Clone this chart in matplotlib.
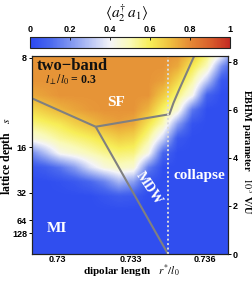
import matplotlib
matplotlib.use('Agg')
import matplotlib.pyplot as plt
import numpy as np
from matplotlib.colors import LinearSegmentedColormap, Normalize
from matplotlib.cm import ScalarMappable

plt.rcParams['mathtext.fontset'] = 'stix'
plt.rcParams['font.family'] = ['Liberation Serif', 'DejaVu Serif']

# ---------------- data ----------------
# grid centres of the order-parameter map
x_centers = [0.7289, 0.7295, 0.7301, 0.7307, 0.7313, 0.7319, 0.7325, 0.7331,
             0.7337, 0.7343, 0.7349, 0.7355, 0.7361, 0.7367, 0.7373]
v_centers = [0.0, 0.6, 1.2, 1.8, 2.4, 3.0, 3.6, 4.2, 4.8, 5.4, 6.0, 6.6, 7.2, 7.8, 8.4]
# <a2^dagger a1>, rows = v_centers (bottom -> top), cols = x_centers
order_map = [
    [.02, .02, .02, .02, .02, .02, .02, .02, .02, .02, .02, .02, .02, .02, .02],
    [.02, .02, .02, .02, .02, .02, .02, .02, .02, .02, .02, .02, .02, .02, .02],
    [.02, .02, .02, .02, .02, .02, .02, .02, .02, .02, .02, .02, .02, .02, .02],
    [.02, .02, .02, .02, .02, .02, .02, .02, .02, .02, .02, .02, .02, .02, .02],
    [.02, .02, .02, .02, .02, .042, .065, .054, .02, .02, .02, .02, .02, .02, .02],
    [.02, .02, .032, .053, .094, .16, .27, .22, .041, .02, .02, .02, .02, .02, .02],
    [.044, .072, .13, .22, .35, .44, .48, .46, .155, .023, .02, .02, .02, .02, .02],
    [.17, .29, .42, .46, .50, .54, .57, .56, .43, .094, .02, .02, .02, .02, .02],
    [.44, .48, .53, .56, .59, .63, .67, .65, .53, .33, .055, .02, .02, .02, .02],
    [.55, .58, .61, .66, .70, .74, .76, .74, .62, .50, .22, .036, .02, .02, .02],
    [.64, .68, .72, .75, .77, .78, .78, .78, .72, .58, .46, .14, .02, .02, .02],
    [.74, .76, .78, .78, .78, .78, .78, .78, .78, .68, .56, .42, .082, .02, .02],
    [.78, .78, .78, .78, .78, .78, .78, .78, .78, .76, .65, .52, .31, .05, .02],
    [.78, .78, .78, .78, .78, .78, .78, .78, .78, .78, .74, .61, .49, .19, .03],
    [.78, .78, .78, .78, .78, .78, .78, .78, .78, .78, .78, .71, .58, .45, .12],
]

# phase boundaries
sf_mi_x = [0.72895, 0.73155]
sf_mi_y = [6.47, 5.29]
sf_right_x = [0.73155, 0.73456, 0.73472, 0.73495, 0.73557]
sf_right_y = [5.29, 5.81, 6.27, 6.82, 8.23]
mi_mdw_x = [0.73155, 0.73450]
mi_mdw_y = [5.29, 0.0]
collapse_x = 0.73452

x_ticks = [0.73, 0.733, 0.736]
x_ticklabels = ['0.73', '0.733', '0.736']
s_labels = ['8', '16', '32', '64', '128']
s_positions = [8.15, 4.44, 2.54, 1.41, 0.87]
vu_ticks = [0, 2, 4, 6, 8]
cb_ticks = [0, 0.2, 0.4, 0.6, 0.8, 1]
cb_ticklabels = ['0', '0.2', '0.4', '0.6', '0.8', '1']

# ---------------- figure ----------------
W, H = 253, 281
fig = plt.figure(figsize=(W / 100, H / 100), dpi=100)

cmap = LinearSegmentedColormap.from_list('ebhm', [
    (0.0, '#2a48f0'), (0.1, '#4a68ee'), (0.2, '#7f95f0'), (0.3, '#b8c4f5'),
    (0.4, '#f4f4f8'), (0.5, '#fafab8'), (0.6, '#f7ee58'), (0.7, '#efc040'),
    (0.8, '#e58a36'), (0.9, '#d9602c'), (1.0, '#c42a22')])
norm = Normalize(0, 1)

ax = fig.add_axes([32 / W, 1 - 254 / H, 196 / W, 198 / H])
dx = x_centers[1] - x_centers[0]
dv = v_centers[1] - v_centers[0]
ax.imshow(np.array(order_map), origin='lower', cmap=cmap, norm=norm,
          extent=[x_centers[0] - dx / 2, x_centers[-1] + dx / 2,
                  v_centers[0] - dv / 2, v_centers[-1] + dv / 2],
          aspect='auto', interpolation='bilinear', interpolation_stage='data')
ax.set_xlim(0.72895, 0.73695)
ax.set_ylim(0, 8.23)

lc = '#808080'
ax.plot(sf_mi_x, sf_mi_y, color=lc, lw=1.5, solid_capstyle='butt')
ax.plot(sf_right_x, sf_right_y, color=lc, lw=1.5, solid_capstyle='butt')
ax.plot(mi_mdw_x, mi_mdw_y, color=lc, lw=1.5, solid_capstyle='butt')
ax.plot([collapse_x, collapse_x], [0, 8.23], color='#dcdcdc', lw=1.4,
        linestyle=(0, (1, 1.3)))

tick_font = dict(family='Liberation Sans', weight='bold', size=6.5)
ax.set_xticks(x_ticks)
ax.set_xticklabels(x_ticklabels, fontdict=tick_font)
ax.set_yticks(s_positions)
ax.set_yticklabels(s_labels, fontdict=tick_font)
ax.tick_params(axis='both', length=2, width=0.7, pad=1.5, direction='out')
ax.tick_params(axis='x', length=0, pad=1.0)

ax2 = ax.twinx()
ax2.set_ylim(0, 8.23)
ax2.set_yticks(vu_ticks)
ax2.set_yticklabels([str(t) for t in vu_ticks], fontdict=tick_font)
ax2.tick_params(axis='y', length=2, width=0.7, pad=1.5, direction='out')
for a in (ax, ax2):
    for sp in a.spines.values():
        sp.set_linewidth(0.8)
        sp.set_color('#222222')

lab = dict(family='Liberation Serif', weight='bold')


def px(xp, yp):
    # figure pixel (from top-left) -> figure fraction
    return xp / W, 1 - yp / H


fig.text(*px(37, 66), 'two\u2212band', fontsize=12, color='#111111', ha='left', va='center', **lab)
fig.text(*px(45, 80), r'$l_{\perp}/l_0$' + ' = 0.3', fontsize=8.5, color='#111111',
         ha='left', va='center', **lab)
fig.text(*px(116, 103), 'SF', fontsize=11, color='white', ha='center', va='center', **lab)
fig.text(*px(199, 176), 'collapse', fontsize=11, color='white', ha='center', va='center', **lab)
fig.text(*px(57, 228), 'MI', fontsize=11, color='white', ha='center', va='center', **lab)
fig.text(*px(149, 188), 'MDW', fontsize=10, color='white', ha='center', va='center',
         rotation=-56, rotation_mode='anchor', **lab)

# axis labels
fig.text(*px(131, 280), 'dipolar length   ' + r'$r^{*}/l_0$', fontsize=8,
         ha='center', va='bottom', **lab)
fig.text(*px(7, 156), 'lattice depth   ' + r'$s$', fontsize=8.5, rotation=90,
         ha='center', va='center', **lab)
fig.text(*px(246, 152), 'EBHM parameter   ' + r'$10^3$' + ' V/U', fontsize=7.5,
         rotation=-90, ha='center', va='center', **lab)

# colorbar
cax = fig.add_axes([30 / W, 1 - 48 / H, 200 / W, 11.5 / H])
cb = fig.colorbar(ScalarMappable(norm=norm, cmap=cmap), cax=cax, orientation='horizontal')
cb.set_ticks(cb_ticks)
cax.xaxis.set_ticks_position('top')
cax.set_xticklabels(cb_ticklabels, fontdict=tick_font)
cax.tick_params(axis='x', length=2, width=0.6, pad=1.5, direction='in')
cb.outline.set_linewidth(0.8)
cb.outline.set_edgecolor('#222222')
fig.text(*px(126.5, 13), r'$\langle a_2^{\dagger}\, a_1\rangle$', fontsize=11,
         ha='center', va='center')

fig.savefig('out.png', dpi=100)
